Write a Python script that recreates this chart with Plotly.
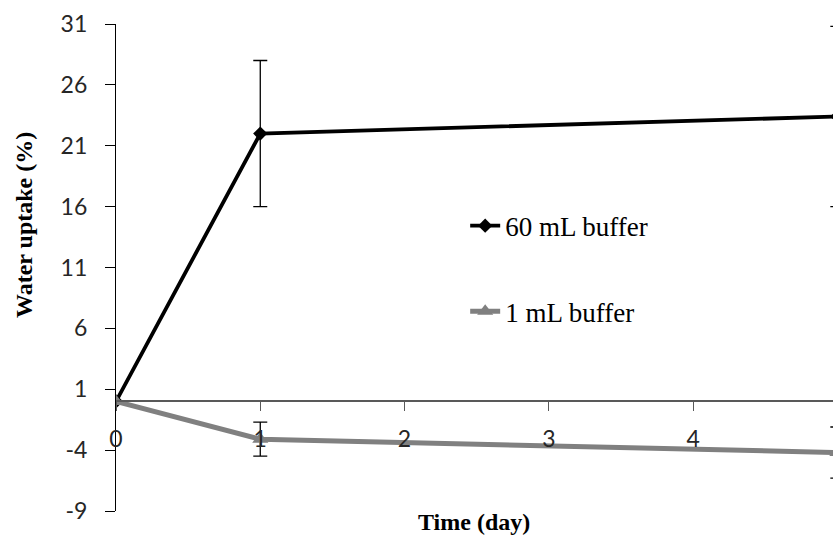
import plotly.graph_objects as go

# Water uptake over time for two buffer volumes
days = [0, 1, 5]
uptake_60ml = [0.0, 22.0, 23.4]
err_60ml = [0.0, 6.0, 7.4]
uptake_1ml = [0.0, -3.1, -4.2]
err_1ml = [0.0, 1.4, 2.1]

y_ticks = [-9, -4, 1, 6, 11, 16, 21, 26, 31]
x_ticks = [0, 1, 2, 3, 4, 5]

W, H = 833, 544
ML, MR, MT, MB = 116, 0, 24, 33
y_min, y_max = -9, 31

serif = "Liberation Serif, Times New Roman, serif"
tick_font = dict(family="Lato, Calibri, sans-serif", size=23, color="#262626")

fig = go.Figure()

fig.add_trace(go.Scatter(
    x=days, y=uptake_60ml, name="60 mL buffer", mode="lines+markers",
    line=dict(color="#000000", width=3.8),
    marker=dict(symbol="diamond", size=11, color="#000000"),
    error_y=dict(type="data", array=err_60ml, color="#000000", thickness=1.3, width=7),
    legend="legend",
))
fig.add_trace(go.Scatter(
    x=days, y=uptake_1ml, name="1 mL buffer", mode="lines+markers",
    line=dict(color="#808080", width=5),
    marker=dict(symbol="triangle-up", size=14, color="#808080"),
    error_y=dict(type="data", array=err_1ml, color="#000000", thickness=1.3, width=7),
    legend="legend2",
))

# x axis crosses the y axis at y = 0
x_axis_pos = (0 - y_min) / (y_max - y_min)

legend_style = dict(
    xanchor="left", yanchor="middle", bgcolor="rgba(0,0,0,0)",
    font=dict(family=serif, size=27, color="#000000"),
    borderwidth=0,
)

fig.update_layout(
    width=W, height=H,
    margin=dict(l=ML, r=MR, t=MT, b=MB, pad=0),
    paper_bgcolor="white", plot_bgcolor="white",
    showlegend=True,
    legend=dict(x=0.487, y=0.585, **legend_style),
    legend2=dict(x=0.487, y=0.409, **legend_style),
    xaxis=dict(
        range=[0, 4.97], tickvals=x_ticks, ticktext=[str(v) for v in x_ticks],
        anchor="free", position=x_axis_pos,
        showline=True, linecolor="#595959", linewidth=1.5,
        ticks="outside", ticklen=9, tickwidth=1.2, tickcolor="#595959",
        tickfont=tick_font, ticklabelstandoff=8,
        showgrid=False, zeroline=False,
    ),
    yaxis=dict(
        range=[y_min, y_max], tickvals=y_ticks, ticktext=[str(v) for v in y_ticks],
        showline=True, linecolor="#000000", linewidth=1.2,
        ticks="outside", ticklen=10, tickwidth=1.2, tickcolor="#000000",
        tickfont=tick_font, ticklabelstandoff=13,
        showgrid=False, zeroline=False,
    ),
    annotations=[
        dict(text="<b>Water uptake (%)</b>", textangle=-90,
             xref="paper", yref="paper",
             x=(24 - ML) / (W - ML - MR), y=(H - MB - 225) / (H - MT - MB),
             xanchor="center", yanchor="middle", showarrow=False,
             font=dict(family=serif, size=24, color="#000000")),
        dict(text="<b>Time (day)</b>",
             xref="paper", yref="paper",
             x=(474 - ML) / (W - ML - MR), y=(H - MB - 522) / (H - MT - MB),
             xanchor="center", yanchor="middle", showarrow=False,
             font=dict(family=serif, size=24, color="#000000")),
    ],
)

fig.write_html("out.html")
